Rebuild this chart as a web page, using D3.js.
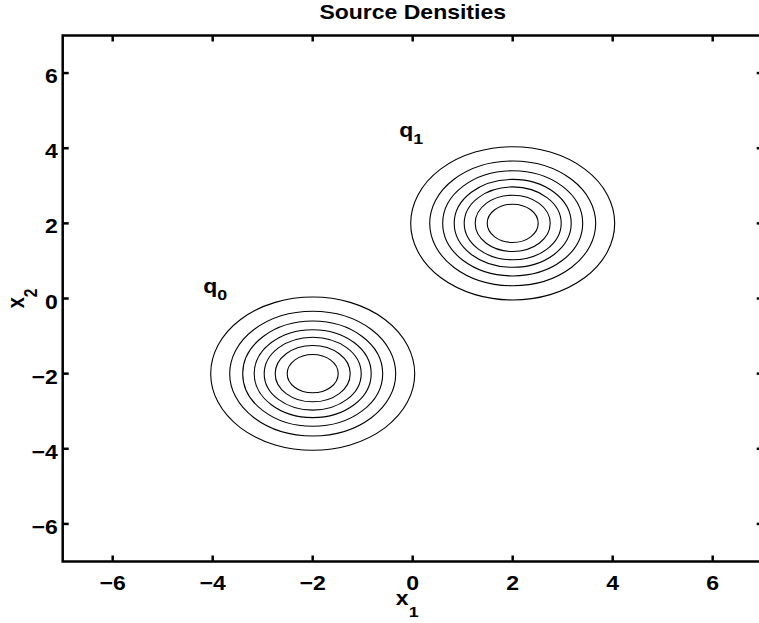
<!DOCTYPE html>
<html>
<head>
<meta charset="utf-8">
<script src="https://cdn.jsdelivr.net/npm/d3@7"></script>
<style>
  html, body { margin: 0; padding: 0; background: #fff; }
  text { font-family: "Liberation Sans", Arial, Helvetica, sans-serif; font-weight: bold; fill: #000; }
</style>
</head>
<body>
<svg id="chart" width="759" height="623"></svg>
<script>
// ---- data ----
const title = "Source Densities";
const xTicks = [-6, -4, -2, 0, 2, 4, 6];
const yTicks = [-6, -4, -2, 0, 2, 4, 6];
const xDomain = [-7, 7];
const yDomain = [-7, 7];
// source centres (x1, x2)
const sourceNames = ["q", "q"];
const sourceSubs = ["0", "1"];
const sourceX = [-2, 2];
const sourceY = [-2, 2];
// contour radii (same for both sources), in data units
const contourRadii = [2.04, 1.66, 1.40, 1.17, 0.97, 0.75, 0.51];
// label anchor points (data units)
const labelX = [-4.19, -0.27];
const labelY = [0.15, 4.30];

// ---- layout ----
(function () {
const svg = d3.select("#chart");
const pLeft = 62.7, pRight = 762.7, pTop = 35.5, pBottom = 561.5;
const sx = 1.15; // horizontal text stretch seen in the picture
const fs = 20;
const subFs = 15.5;

const x = d3.scaleLinear().domain(xDomain).range([pLeft, pRight]);
const y = d3.scaleLinear().domain(yDomain).range([pBottom, pTop]);
const fmt = d3.format("");

// contours
const g = svg.append("g");
sourceX.forEach((cx, i) => {
  const cy = sourceY[i];
  g.selectAll(null).data(contourRadii).enter().append("ellipse")
    .attr("cx", x(cx)).attr("cy", y(cy))
    .attr("rx", r => x(cx + r) - x(cx))
    .attr("ry", r => y(cy - r) - y(cy))
    .attr("fill", "none").attr("stroke", "#000").attr("stroke-width", 1.1);
});

// axes with inward ticks on all four sides
const tickLen = 6;
const axG = svg.append("g").attr("stroke", "#000").attr("stroke-width", 2.5);
axG.append("rect").attr("x", pLeft).attr("y", pTop)
  .attr("width", pRight - pLeft).attr("height", pBottom - pTop)
  .attr("fill", "none");
xTicks.forEach(t => {
  axG.append("line").attr("x1", x(t)).attr("x2", x(t)).attr("y1", pBottom).attr("y2", pBottom - tickLen);
  axG.append("line").attr("x1", x(t)).attr("x2", x(t)).attr("y1", pTop).attr("y2", pTop + tickLen);
});
yTicks.forEach(t => {
  axG.append("line").attr("x1", pLeft).attr("x2", pLeft + tickLen).attr("y1", y(t)).attr("y2", y(t));
  axG.append("line").attr("x1", pRight).attr("x2", pRight - tickLen).attr("y1", y(t)).attr("y2", y(t));
});

// tick labels
svg.append("g").selectAll("text").data(xTicks).enter().append("text")
  .attr("transform", d => `translate(${x(d)},${pBottom + 28}) scale(${sx},1)`)
  .attr("text-anchor", "middle").attr("font-size", fs)
  .text(d => fmt(d));
svg.append("g").selectAll("text").data(yTicks).enter().append("text")
  .attr("transform", d => `translate(${pLeft - 5},${y(d) + 10}) scale(${sx},1)`)
  .attr("text-anchor", "end").attr("font-size", fs)
  .text(d => fmt(d));

// title
svg.append("text")
  .attr("transform", `translate(${(pLeft + pRight) / 2},19) scale(${sx},1)`)
  .attr("text-anchor", "middle").attr("font-size", fs)
  .text(title);

// axis labels with subscripts
function subLabel(sel, main, sub) {
  sel.append("tspan").text(main);
  sel.append("tspan").attr("font-size", subFs).attr("dy", 12).text(sub);
}
const xl = svg.append("text")
  .attr("transform", `translate(${x(0) - 5.5},605) scale(${sx},1)`)
  .attr("text-anchor", "middle").attr("font-size", fs);
subLabel(xl, "x", "1");

const yl = svg.append("text")
  .attr("transform", `translate(23.5,${y(0)}) scale(${sx},1) rotate(-90)`)
  .attr("text-anchor", "middle").attr("font-size", fs);
subLabel(yl, "x", "2");

// source labels
labelX.forEach((lx, i) => {
  const t = svg.append("text")
    .attr("transform", `translate(${x(lx)},${y(labelY[i])}) scale(${sx},1)`)
    .attr("font-size", fs);
  t.append("tspan").text(sourceNames[i]);
  t.append("tspan").attr("font-size", subFs).attr("dy", 7).text(sourceSubs[i]);
});
})();
</script>
</body>
</html>
